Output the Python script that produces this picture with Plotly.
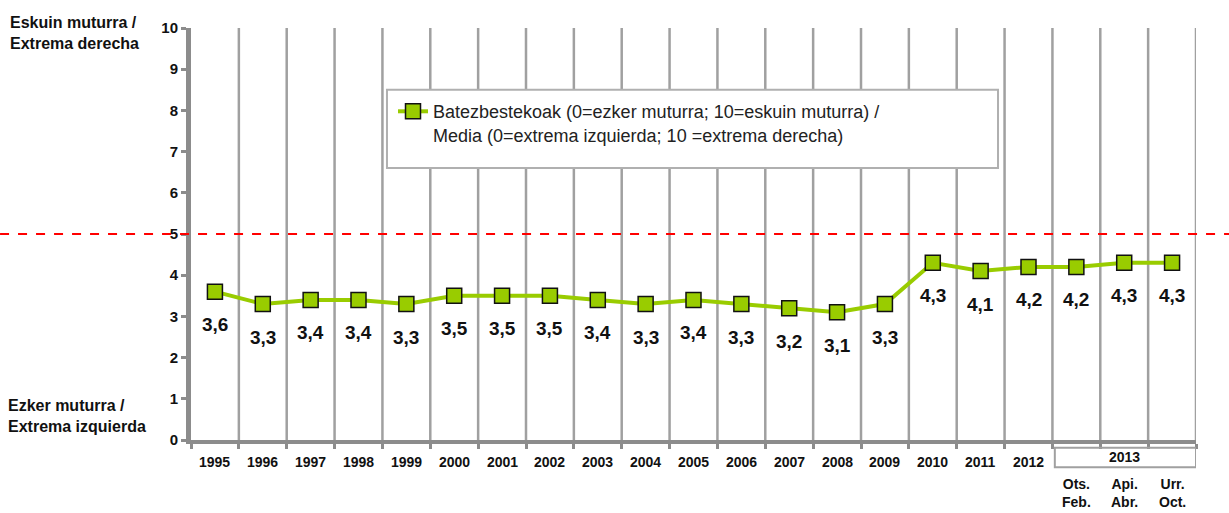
import plotly.graph_objects as go

# Series: mean left-right self-placement (0 = far left, 10 = far right)
years = ["1995", "1996", "1997", "1998", "1999", "2000", "2001", "2002", "2003",
         "2004", "2005", "2006", "2007", "2008", "2009", "2010", "2011", "2012"]
waves_2013 = ["Ots.<br>Feb.", "Api.<br>Abr.", "Urr.<br>Oct."]
values = [3.6, 3.3, 3.4, 3.4, 3.3, 3.5, 3.5, 3.5, 3.4, 3.3, 3.4, 3.3, 3.2, 3.1, 3.3,
          4.3, 4.1, 4.2, 4.2, 4.3, 4.3]
y_ticks = list(range(0, 11))
midpoint = 5

n = len(values)
xs = list(range(n))
boundaries = [i - 0.5 for i in range(n + 1)]

FONT = "Liberation Sans, Arial, sans-serif"
GREEN = "#99cc00"
GREY = "#a0a0a0"
AXIS_GREY = "#8c8c8c"

fig = go.Figure()
fig.add_trace(go.Scatter(
    x=xs, y=values, mode="lines+markers",
    name="Batezbestekoak (0=ezker muturra; 10=eskuin muturra) /<br>Media (0=extrema izquierda; 10 =extrema derecha)",
    line=dict(color=GREEN, width=4),
    marker=dict(symbol="square", size=15, color=GREEN, line=dict(color="#111", width=1.5)),
))

annotations = []
# value labels below each marker
for x, v in zip(xs, values):
    annotations.append(dict(x=x, y=v, xref="x", yref="y", showarrow=False,
                            text=f"{v:.1f}".replace(".", ","), yshift=-33,
                            font=dict(family=FONT, size=19, color="#111", weight="bold")))
# year labels
for i, yr in enumerate(years):
    annotations.append(dict(x=i, y=-0.0534, xref="x", yref="paper", yanchor="middle",
                            showarrow=False, text=yr,
                            font=dict(family=FONT, size=14, color="#111", weight="bold")))
# 2013 group header and wave labels
annotations.append(dict(x=(len(years) + n - 1) / 2, y=-0.042, xref="x", yref="paper",
                        yanchor="middle", showarrow=False, text="2013",
                        font=dict(family=FONT, size=14, color="#111", weight="bold")))
for j, w in enumerate(waves_2013):
    annotations.append(dict(x=len(years) + j, y=-0.128, xref="x", yref="paper",
                            yanchor="middle", showarrow=False, text=w,
                            font=dict(family=FONT, size=14, color="#111", weight="bold")))
# scale end labels
annotations.append(dict(x=-0.182, y=1.04, xref="paper", yref="paper", xanchor="left",
                        yanchor="top", align="left", showarrow=False,
                        text="Eskuin muturra /<br>Extrema derecha",
                        font=dict(family=FONT, size=16, color="#111", weight="bold")))
annotations.append(dict(x=-0.184, y=0.11, xref="paper", yref="paper", xanchor="left",
                        yanchor="top", align="left", showarrow=False,
                        text="Ezker muturra /<br>Extrema izquierda",
                        font=dict(family=FONT, size=16, color="#111", weight="bold")))

shapes = []
# vertical separators between categories
for b in boundaries[1:]:
    shapes.append(dict(type="line", xref="x", yref="y", x0=b, x1=b, y0=0, y1=max(y_ticks),
                       line=dict(color=GREY, width=2.5), layer="below"))
# midpoint reference line across the whole width
shapes.append(dict(type="line", xref="paper", yref="y", x0=-0.19, x1=1.04,
                   y0=midpoint, y1=midpoint, line=dict(color="#ff0000", width=2, dash="dash")))
# box around the 2013 header
shapes.append(dict(type="rect", xref="x", yref="paper", x0=len(years) - 0.45, x1=n - 0.5,
                   y0=-0.066, y1=-0.019, line=dict(color=GREY, width=2)))
# legend frame
shapes.append(dict(type="rect", xref="paper", yref="paper", x0=0.195, x1=0.803,
                   y0=0.66, y1=0.85, fillcolor="white", line=dict(color="#b0b0b0", width=2),
                   layer="above"))

fig.update_layout(
    width=1229, height=513,
    margin=dict(l=191, r=33, t=28, b=73),
    paper_bgcolor="white", plot_bgcolor="white",
    showlegend=True,
    legend=dict(x=0.201, y=0.842, xanchor="left", yanchor="top",
                bgcolor="rgba(0,0,0,0)", borderwidth=0,
                valign="top", font=dict(family=FONT, size=18, color="#222")),
    annotations=annotations,
    shapes=shapes,
    xaxis=dict(range=[-0.5, n - 0.5], tickvals=boundaries, ticktext=[""] * len(boundaries),
               showgrid=False, zeroline=False, showline=True, linecolor=AXIS_GREY,
               linewidth=4, ticks="outside", ticklen=5, tickwidth=3, tickcolor=AXIS_GREY),
    yaxis=dict(range=[0, 10], tickvals=y_ticks, showgrid=False, zeroline=False,
               showline=True, linecolor=AXIS_GREY, linewidth=5, ticks="outside",
               ticklen=5, tickwidth=3, tickcolor=AXIS_GREY,
               tickfont=dict(family=FONT, size=15, color="#111", weight="bold")),
)

fig.write_html("out.html")
